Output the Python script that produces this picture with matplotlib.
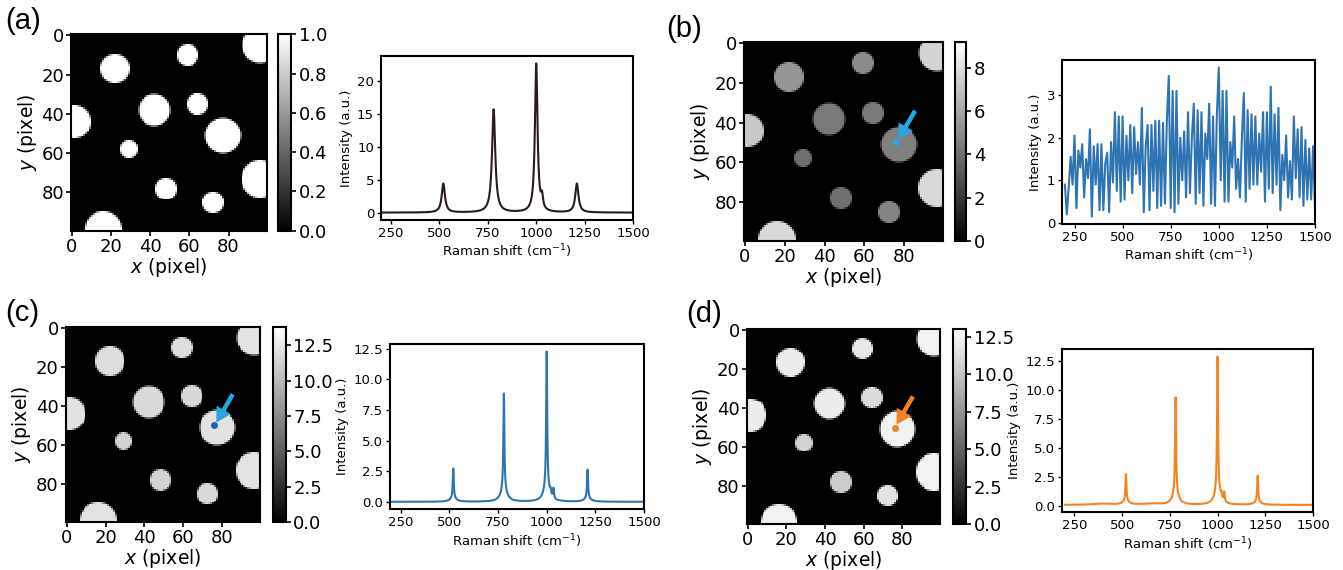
import numpy as np
import matplotlib
matplotlib.use('Agg')
import matplotlib.pyplot as plt

# circles in the 100x100 maps: centre x, centre y, radius (pixels)
circle_x = [22, 59, 96, 42, 64, 1, 77, 29, 96, 48, 72, 16]
circle_y = [17, 10, 5, 38, 35, 44, 51, 58, 73, 78, 85, 99]
circle_r = [7.5, 5.5, 9, 8, 5.5, 8.5, 9, 4.5, 9.5, 5.5, 5.5, 9.5]

# brightness of each circle per map
level_a = [1.0] * 12
level_b = [5.4, 5.0, 7.6, 4.4, 4.4, 7.2, 4.6, 4.0, 7.8, 4.0, 4.8, 7.8]
level_c = [12.0, 12.0, 12.3, 11.8, 11.6, 12.2, 12.2, 11.4, 12.3, 11.4, 11.8, 12.3]
level_d = [12.0, 11.8, 12.3, 12.0, 11.2, 12.0, 12.3, 10.8, 12.3, 10.4, 11.6, 12.3]
clim_a = (0.0, 1.0)
clim_b = (0.0, 9.2)
clim_c = (0.0, 13.8)
clim_d = (0.0, 13.0)
cbar_ticks_a = [0.0, 0.2, 0.4, 0.6, 0.8, 1.0]
cbar_ticks_b = [0, 2, 4, 6, 8]
cbar_ticks_cd = [0.0, 2.5, 5.0, 7.5, 10.0, 12.5]

# probed pixel (arrow target)
spot = (76, 50)

# Raman peaks: position (cm-1), height, half width
pos_a = [520, 780, 1000, 1030, 1210]
hgt_a = [4.4, 15.7, 22.6, 1.8, 4.4]
wid_a = [10, 10, 8, 6, 10]

pos_c = [520, 780, 1000, 1020, 1035, 1210, 520, 780, 1000, 1210]
hgt_c = [2.4, 7.8, 11.0, 0.4, 0.8, 2.3, 0.3, 1.0, 1.2, 0.3]
wid_c = [3, 3, 3, 3, 3, 3, 18, 18, 18, 18]
base_c = 0.03

pos_d = [520, 780, 1000, 1020, 1035, 1210, 520, 780, 1000, 1210, 400, 650]
hgt_d = [2.3, 8.2, 11.5, 0.4, 0.8, 2.2, 0.3, 1.0, 1.2, 0.3, 0.1, 0.1]
wid_d = [3, 3, 3, 3, 3, 3, 18, 18, 18, 18, 60, 60]
base_d = 0.12

# noisy spectrum of panel (b), every 10 cm-1 from 200 to 1500
shift_b = list(range(200, 1501, 10))
inten_b = [0.9, 0.2, 0.85, 1.55, 0.9, 2.05, 0.35, 1.7, 1.3, 1.85,
           0.6, 1.5, 1.05, 2.2, 0.15, 1.8, 0.9, 1.85, 0.3, 1.85,
           0.3, 1.4, 1.65, 0.25, 1.9, 0.95, 2.6, 0.75, 2.5, 0.5,
           2.5, 0.55, 2.05, 1.0, 2.3, 0.7, 2.25, 1.15, 1.9, 0.9,
           2.7, 0.25, 1.8, 2.3, 0.3, 2.3, 0.75, 2.4, 0.35, 2.4,
           0.4, 2.35, 0.45, 2.4, 3.45, 0.35, 3.1, 0.25, 3.1, 0.45,
           2.0, 1.0, 2.15, 0.6, 2.6, 0.7, 2.0, 2.8, 0.45, 2.65,
           0.7, 2.6, 0.4, 2.1, 1.5, 2.8, 0.45, 2.5, 0.4, 2.55,
           3.65, 1.0, 3.1, 0.5, 3.1, 0.5, 1.9, 1.3, 2.5, 0.8,
           1.5, 0.6, 2.0, 3.05, 0.5, 2.65, 0.8, 2.55, 0.9, 2.5,
           0.9, 2.1, 1.2, 2.6, 0.5, 2.6, 0.8, 3.2, 0.7, 2.55,
           0.9, 2.7, 0.3, 1.6, 1.0, 2.05, 0.6, 1.45, 0.55, 2.5,
           1.05, 2.2, 0.6, 2.25, 0.4, 1.95, 0.55, 1.75, 0.55, 1.8,
           0.35]

W, H = 1343, 570
plt.rcParams['font.family'] = ['DejaVu Sans']
plt.rcParams['axes.linewidth'] = 1.5
fig = plt.figure(figsize=(W / 100, H / 100), dpi=100)


def box(x0, y0, x1, y1):
    return [x0 / W, 1 - y1 / H, (x1 - x0) / W, (y1 - y0) / H]


def make_map(levels):
    yy, xx = np.mgrid[0:100, 0:100]
    img = np.zeros((100, 100))
    for cx, cy, r, v in zip(circle_x, circle_y, circle_r, levels):
        d = np.hypot(xx - cx, yy - cy)
        img = np.maximum(img, v * np.clip(r + 0.5 - d, 0, 1))
    return img


def spectrum(pos, hgt, wid, base=0.0):
    x = np.arange(200, 1501, 1.0)
    y = np.full_like(x, base)
    for p, h, w in zip(pos, hgt, wid):
        y += h * w ** 2 / ((x - p) ** 2 + w ** 2)
    return x, y


def draw_map(rect_img, rect_cb, levels, clim, cticks, cfmt, label, lab_xy,
             arrow_c=None, dot_c=None):
    ax = fig.add_axes(box(*rect_img))
    im = ax.imshow(make_map(levels), cmap='gray', vmin=clim[0], vmax=clim[1],
                   aspect='auto', interpolation='nearest')
    ax.set_xticks([0, 20, 40, 60, 80])
    ax.set_yticks([0, 20, 40, 60, 80])
    ax.tick_params(labelsize=13, width=1.2, length=3.5, pad=1.5)
    ax.set_xlabel('$x$ (pixel)', fontsize=13.5, labelpad=0)
    ax.set_ylabel('$y$ (pixel)', fontsize=13.5, labelpad=2)
    cax = fig.add_axes(box(*rect_cb))
    cb = fig.colorbar(im, cax=cax, ticks=cticks, format=cfmt)
    cb.ax.tick_params(labelsize=13, width=1.2, length=3.5, pad=2)
    cb.outline.set_linewidth(1.5)
    if arrow_c is not None:
        ax.arrow(spot[0] + 9.5, spot[1] - 16, -8.5, 14.5, width=2.3,
                 head_width=8.5, head_length=7.5, length_includes_head=True,
                 color=arrow_c, lw=0)
        ax.plot(spot[0], spot[1], 'o', color=dot_c, ms=5, mew=0)
    fig.text(lab_xy[0] / W, 1 - lab_xy[1] / H, label, fontsize=21,
             family='Liberation Sans', ha='left', va='center')


def draw_spec(rect, x, y, color, xlim, yticks=None):
    ax = fig.add_axes(box(*rect))
    ax.plot(x, y, color=color, lw=1.5)
    ax.set_xlim(*xlim)
    ax.set_xticks([250, 500, 750, 1000, 1250, 1500])
    if yticks is not None:
        ax.set_yticks(yticks)
    ax.tick_params(labelsize=9.5, width=1.0, length=3, pad=2)
    ax.set_xlabel('Raman shift (cm$^{-1}$)', fontsize=9.5, labelpad=2)
    ax.set_ylabel('Intensity (a.u.)', fontsize=9.5, labelpad=3)
    return ax


# (a)
draw_map((71, 34.3, 266.7, 230.7), (277.7, 34.3, 291, 230.7), level_a, clim_a,
         cbar_ticks_a, '%.1f', '(a)', (5, 21))
xa, ya = spectrum(pos_a, hgt_a, wid_a)
draw_spec((381, 56, 633, 220), xa, ya, '#2a1c1c', (198, 1500),
          [0, 5, 10, 15, 20])

# (b)
draw_map((744, 42.3, 943, 240.7), (955, 42.3, 966, 240.7), level_b, clim_b,
         cbar_ticks_b, '%d', '(b)', (666, 29), arrow_c='#2aa6de',
         dot_c='#2aa6de')
draw_spec((1062, 60, 1315, 224), shift_b, inten_b, '#2f74b2', (185, 1500),
          [0, 1, 2, 3])

# (c)
draw_map((65.7, 327, 260, 522), (273.3, 327, 285.7, 522), level_c,
         clim_c, cbar_ticks_cd, '%.1f', '(c)', (5, 313), arrow_c='#2aa6de',
         dot_c='#1f5fae')
xc, yc = spectrum(pos_c, hgt_c, wid_c, base_c)
draw_spec((390, 344, 644, 509.3), xc, yc, '#2f74b2', (195, 1500))

# (d)
draw_map((746.7, 329, 940, 524.4), (953.3, 329, 966, 524.4), level_d,
         clim_d, cbar_ticks_cd, '%.1f', '(d)', (686, 314), arrow_c='#f08222',
         dot_c='#f08222')
xd, yd = spectrum(pos_d, hgt_d, wid_d, base_d)
draw_spec((1062, 349, 1313, 512.3), xd, yd, '#f5841f', (185, 1500))

fig.savefig('out.png', dpi=100)
